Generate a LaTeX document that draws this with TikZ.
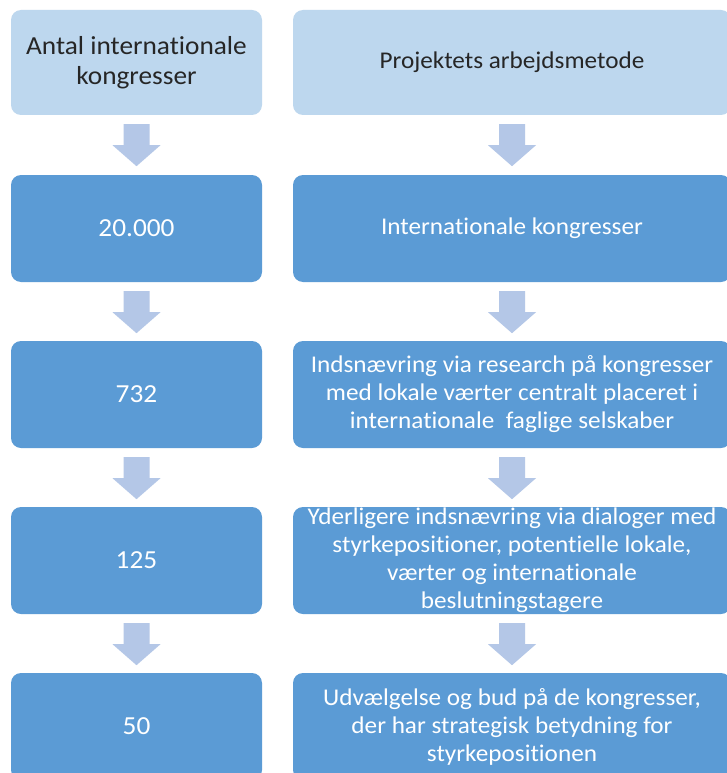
\documentclass[tikz,border=0pt]{standalone}
\usepackage{fontspec}
\setmainfont{Carlito}[FakeStretch=1.05,Ligatures=NoCommon]
\usetikzlibrary{calc}
\definecolor{lightbox}{HTML}{BDD7EE}
\definecolor{darkbox}{HTML}{5B9BD5}
\definecolor{arrowfill}{HTML}{B4C7E7}
\tikzset{
  boxbase/.style={rectangle, rounded corners=10pt, align=center, inner sep=0pt},
  headbox/.style={boxbase, fill=lightbox, text=black!85, minimum height=105pt},
  stepbox/.style={boxbase, fill=darkbox, text=white, minimum height=107pt},
  leftcol/.style={minimum width=251pt},
  rightcol/.style={minimum width=438pt},
  txt/.style={font=\fontsize{24pt}{28pt}\selectfont},
  bigtxt/.style={font=\fontsize{26pt}{30pt}\selectfont},
}
\newcommand{\blockarrow}[1]{%
  \fill[arrowfill] ($(#1.south)+(-13,-9)$) -- ($(#1.south)+(13,-9)$) --
    ($(#1.south)+(13,-30)$) -- ($(#1.south)+(24,-30)$) --
    ($(#1.south)+(0,-51)$) -- ($(#1.south)+(-24,-30)$) --
    ($(#1.south)+(-13,-30)$) -- cycle;}
\begin{document}
\begin{tikzpicture}[x=1pt,y=1pt]
\useasboundingbox (0,0) rectangle (727,-773);
\clip (0,0) rectangle (727,-773);
\fill[white] (0,0) rectangle (727,-773);
% left column
\node[headbox,leftcol,bigtxt] (l1) at (136.5,-62.5) {Antal internationale\\kongresser};
\node[stepbox,leftcol,bigtxt] (l2) at (136.5,-228.5) {20.000};
\node[stepbox,leftcol,bigtxt] (l3) at (136.5,-394.5) {732};
\node[stepbox,leftcol,bigtxt] (l4) at (136.5,-560.5) {125};
\node[stepbox,leftcol,bigtxt] (l5) at (136.5,-726.5) {50};
% right column
\node[headbox,rightcol,txt] (r1) at (512,-62.5) {Projektets arbejdsmetode};
\node[stepbox,rightcol,txt] (r2) at (512,-228.5) {Internationale kongresser};
\node[stepbox,rightcol,txt] (r3) at (512,-394.5) {Indsnævring via research på kongresser\\med lokale værter centralt placeret i\\internationale\ \ faglige selskaber};
\node[stepbox,rightcol,txt] (r4) at (512,-560.5) {Yderligere indsnævring via dialoger med\\styrkepositioner, potentielle lokale,\\værter og internationale\\beslutningstagere};
\node[stepbox,rightcol,txt] (r5) at (512,-726.5) {Udvælgelse og bud på de kongresser,\\der har strategisk betydning for\\styrkepositionen};
% arrows
\blockarrow{l1}\blockarrow{l2}\blockarrow{l3}\blockarrow{l4}
\blockarrow{r1}\blockarrow{r2}\blockarrow{r3}\blockarrow{r4}
\end{tikzpicture}
\end{document}
